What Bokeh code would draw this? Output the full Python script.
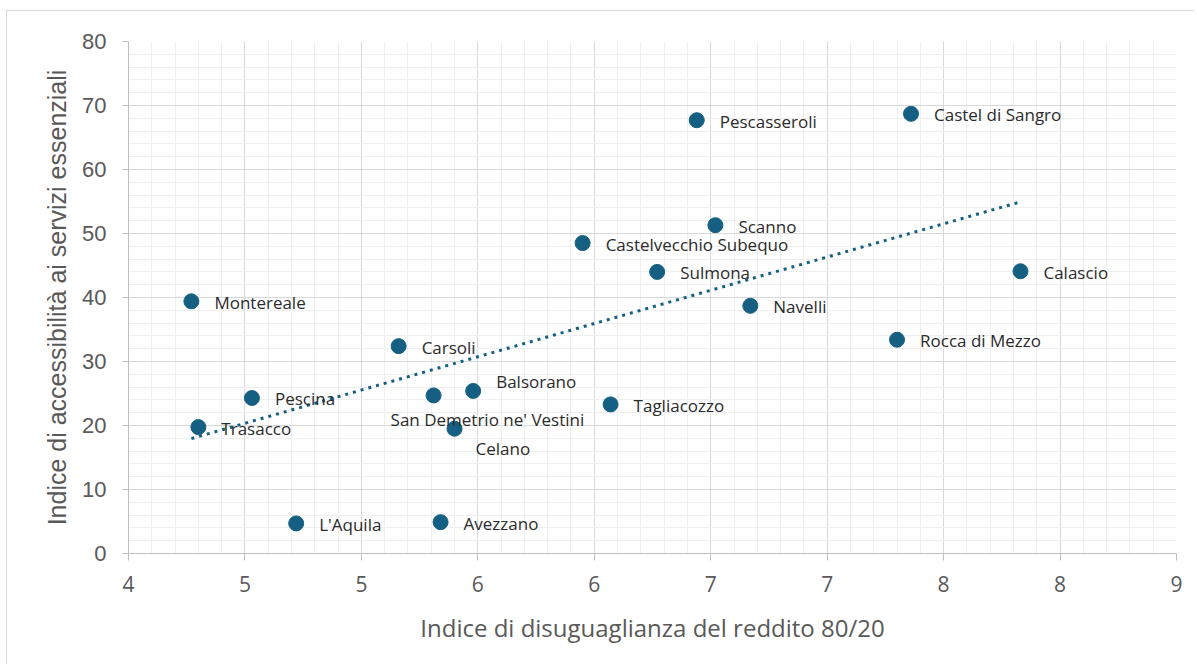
import numpy as np
from bokeh.plotting import figure
from bokeh.models import Range1d, FixedTicker, ColumnDataSource
from bokeh.core.properties import value
from bokeh.embed import file_html
from bokeh.resources import INLINE

# ---- data ----
comuni = ["Pescasseroli", "Castel di Sangro", "Scanno", "Castelvecchio Subequo",
          "Sulmona", "Calascio", "Montereale", "Navelli", "Rocca di Mezzo",
          "Carsoli", "Balsorano", "Pescina", "San Demetrio ne' Vestini",
          "Tagliacozzo", "Trasacco", "Celano", "L'Aquila", "Avezzano"]
disuguaglianza = [6.44, 7.36, 6.52, 5.95, 6.27, 7.83, 4.27, 6.67, 7.30,
                  5.16, 5.48, 4.53, 5.31, 6.07, 4.30, 5.40, 4.72, 5.34]
accessibilita = [67.7, 68.7, 51.3, 48.5, 44.0, 44.1, 39.4, 38.7, 33.4,
                 32.4, 25.4, 24.3, 24.7, 23.3, 19.75, 19.5, 4.7, 4.9]

x_ticks = [4.0, 4.5, 5.0, 5.5, 6.0, 6.5, 7.0, 7.5, 8.0, 8.5]
x_tick_labels = ["4", "5", "5", "6", "6", "7", "7", "8", "8", "9"]
y_ticks = [0, 10, 20, 30, 40, 50, 60, 70, 80]

x_title = "Indice di disuguaglianza del reddito 80/20"
y_title = "Indice di accessibilità ai servizi essenziali"

# ---- label placement (style, not data) ----
DEFAULT_OFFSET = (23, 1)
LABEL_OFFSETS = {"Balsorano": (23, -9), "Celano": (21, 20),
                 "San Demetrio ne' Vestini": (-43, 24)}

COLOR = "#156082"
GRID = "#d9d9d9"
MINOR = "#efefef"
AXIS = "#bfbfbf"
TXT = "#595959"
LABEL_FONT = "Open Sans"

p = figure(width=1188, height=654, output_backend="svg", toolbar_location=None,
           x_range=Range1d(4, 8.5), y_range=Range1d(0, 80),
           min_border_left=121, min_border_top=30, min_border_right=19,
           min_border_bottom=112)
p.margin = (10, 0, 0, 6)
p.outline_line_color = None
p.background_fill_color = "white"
p.border_fill_color = "white"
p.styles = {"border-left": "1px solid #d9d9d9", "border-top": "1px solid #d9d9d9"}

x_minor = [round(4 + 0.1 * i, 1) for i in range(46)]
y_minor = list(range(0, 81, 2))
p.xaxis.ticker = FixedTicker(ticks=x_ticks, minor_ticks=x_minor)
p.yaxis.ticker = FixedTicker(ticks=y_ticks, minor_ticks=y_minor)
p.xgrid.ticker = p.xaxis.ticker
p.ygrid.ticker = p.yaxis.ticker
p.xaxis.major_label_overrides = {t: l for t, l in zip(x_ticks, x_tick_labels)}

for g in (p.xgrid, p.ygrid):
    g.grid_line_color = GRID
    g.grid_line_width = 1
    g.minor_grid_line_color = MINOR
    g.minor_grid_line_width = 1

for ax in (p.xaxis, p.yaxis):
    ax.axis_line_color = AXIS
    ax.axis_line_width = 1
    ax.major_tick_line_color = AXIS
    ax.major_tick_in = 0
    ax.minor_tick_line_color = None
    ax.major_label_text_color = TXT
    ax.axis_label_text_color = TXT
    ax.axis_label_text_font_style = "normal"

p.xaxis.major_tick_out = 7
p.yaxis.major_tick_out = 6
p.xaxis.major_label_text_font = "Open Sans"
p.xaxis.major_label_text_font_size = "21px"
p.xaxis.major_label_standoff = 15
p.yaxis.major_label_text_font = "Liberation Sans"
p.yaxis.major_label_text_font_size = "22px"
p.yaxis.major_label_standoff = 16

p.xaxis.axis_label = x_title
p.xaxis.axis_label_text_font = "Open Sans"
p.xaxis.axis_label_text_font_size = "24px"
p.xaxis.axis_label_standoff = 16
p.yaxis.axis_label = y_title
p.yaxis.axis_label_text_font = "Liberation Sans"
p.yaxis.axis_label_text_font_size = "25px"
p.yaxis.axis_label_standoff = 8

# trendline (linear least squares from data)
xa = np.array(disuguaglianza)
ya = np.array(accessibilita)
slope, intercept = np.polyfit(xa, ya, 1)
tx = [xa.min(), xa.max()]
ty = [slope * v + intercept for v in tx]
p.line(tx, ty, line_color=COLOR, line_width=3, line_dash="3 5")

src = ColumnDataSource(dict(
    x=disuguaglianza, y=accessibilita, name=comuni,
    dx=[LABEL_OFFSETS.get(n, DEFAULT_OFFSET)[0] for n in comuni],
    dy=[LABEL_OFFSETS.get(n, DEFAULT_OFFSET)[1] for n in comuni],
))
p.scatter("x", "y", source=src, size=15, fill_color=COLOR, line_color=COLOR)
p.text("x", "y", text="name", source=src, x_offset="dx", y_offset="dy",
       text_font=value(LABEL_FONT), text_font_size="17px", text_color="#2b2b2b",
       text_baseline="middle", text_align="left")

open("out.html", "w").write(file_html(p, INLINE))
